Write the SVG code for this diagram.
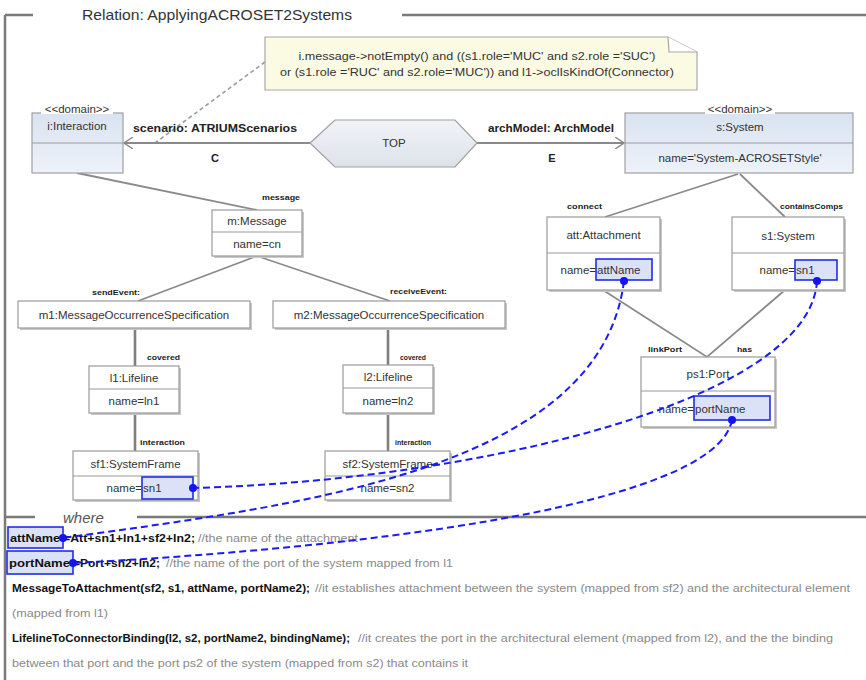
<svg xmlns="http://www.w3.org/2000/svg" width="866" height="680" viewBox="0 0 866 680">
  <defs>
    <linearGradient id="domainFill" x1="0" y1="0" x2="0" y2="1">
      <stop offset="0" stop-color="#d9e3f1"/>
      <stop offset="1" stop-color="#eef2f9"/>
    </linearGradient>
    <linearGradient id="hexFill" x1="0" y1="0" x2="0" y2="1">
      <stop offset="0" stop-color="#f1f3f7"/>
      <stop offset="1" stop-color="#dde2ea"/>
    </linearGradient>
    <marker id="openArrow" viewBox="0 0 10 12" refX="9" refY="6" markerWidth="10" markerHeight="12" markerUnits="userSpaceOnUse" orient="auto">
      <path d="M0,0 L9,6 L0,12" fill="none" stroke="#888" stroke-width="1.4"/>
    </marker>
    <style>
      .frame { stroke: #7a7a7a; stroke-width: 2.5; fill: none; }
      .box { fill: #ffffff; stroke: #9a9a9a; stroke-width: 1.2; }
      .shadow { fill: #c8c8c8; }
      .dom { fill: url(#domainFill); stroke: #a0a0a0; stroke-width: 1.2; }
      .div { stroke: #9a9a9a; stroke-width: 1.2; }
      .link { stroke: #8a8a8a; stroke-width: 1.8; fill: none; }
      .vlink { stroke: #7f7f7f; stroke-width: 2.6; fill: none; }
      .t { font-family: "Liberation Sans", Arial, sans-serif; font-size: 11.5px; fill: #333; }
      .mid { text-anchor: middle; }
      .end { text-anchor: end; }
      .role { font-family: "Liberation Sans", Arial, sans-serif; font-size: 8px; font-weight: bold; fill: #222; }
      .elabel { font-family: "Liberation Sans", Arial, sans-serif; font-size: 11px; font-weight: bold; fill: #222; }
      .note { font-family: "Liberation Sans", Arial, sans-serif; font-size: 10.5px; fill: #333; }
      .hl { fill: #dbe2f8; stroke: #1e2de8; stroke-width: 1.6; }
      .dot { fill: #1414f0; }
      .bind { stroke: #1a1aff; stroke-width: 2; stroke-dasharray: 7 4; fill: none; }
      .w { font-family: "Liberation Sans", Arial, sans-serif; font-size: 11px; }
      .wb { font-weight: bold; fill: #111; }
      .wc { fill: #8a8a8a; }
    </style>
  </defs>

  <rect width="866" height="680" fill="#ffffff"/>

  <!-- relation frame -->
  <g id="frame">
    <path class="frame" d="M5,15 H33 M5,15 V680 M402,15 H866"/>
    <text x="82" y="19.5" font-family="Liberation Sans, Arial, sans-serif" font-size="14.5" fill="#333" textLength="270" lengthAdjust="spacingAndGlyphs">Relation: ApplyingACROSET2Systems</text>
    <path class="frame" d="M5,517 H35 M137,517 H866"/>
    <text x="63" y="523" font-family="Liberation Sans, Arial, sans-serif" font-size="15" font-style="italic" fill="#555">where</text>
  </g>

  <!-- connectors -->
  <g id="connectors">
    <path d="M265,62 L155,143" stroke="#9a9a9a" stroke-width="1.6" stroke-dasharray="4 3" fill="none"/>
    <path class="link" d="M310,143 H124" marker-end="url(#openArrow)"/>
    <path class="link" d="M477,143 H624" marker-end="url(#openArrow)"/>
    <path class="link" d="M77,173 L257,210"/>
    <path class="link" d="M257,256 L138,301"/>
    <path class="link" d="M257,256 L390,301"/>
    <path class="vlink" d="M135,328 V366 M135,413 V451"/>
    <path class="vlink" d="M388,328 V365 M388,413 V451"/>
    <path class="link" d="M738,174 L605,217"/>
    <path class="link" d="M740,174 L785,217"/>
    <path class="link" d="M603,290 L707,357 L785,290"/>

    <text class="elabel" x="133" y="132" textLength="164" lengthAdjust="spacingAndGlyphs">scenario: ATRIUMScenarios</text>
    <text class="elabel" x="215" y="162" font-size="12.5" text-anchor="middle">C</text>
    <text class="elabel" x="488" y="132" textLength="126" lengthAdjust="spacingAndGlyphs">archModel: ArchModel</text>
    <text class="elabel" x="552" y="162" font-size="12.5" text-anchor="middle">E</text>

    <text class="role" x="262" y="200" textLength="38" lengthAdjust="spacingAndGlyphs">message</text>
    <text class="role" x="92" y="295" textLength="48" lengthAdjust="spacingAndGlyphs">sendEvent:</text>
    <text class="role" x="390" y="294" textLength="57" lengthAdjust="spacingAndGlyphs">receiveEvent:</text>
    <text class="role" x="147" y="360" textLength="33" lengthAdjust="spacingAndGlyphs">covered</text>
    <text class="role" x="400" y="360" textLength="26" lengthAdjust="spacingAndGlyphs">covered</text>
    <text class="role" x="140" y="445" textLength="45" lengthAdjust="spacingAndGlyphs">interaction</text>
    <text class="role" x="395" y="445" textLength="36" lengthAdjust="spacingAndGlyphs">interaction</text>
    <text class="role" x="567" y="209" textLength="35" lengthAdjust="spacingAndGlyphs">connect</text>
    <text class="role" x="780" y="209" textLength="63" lengthAdjust="spacingAndGlyphs">containsComps</text>
    <text class="role" x="648" y="352" textLength="34" lengthAdjust="spacingAndGlyphs">linkPort</text>
    <text class="role" x="737" y="352" textLength="15" lengthAdjust="spacingAndGlyphs">has</text>
  </g>

  <!-- constraint note -->
  <g id="note">
    <path d="M265,37 H668 L697,52 V90 H265 Z" fill="#fbfbe3" stroke="#a8a8a8" stroke-width="1.2"/>
    <path d="M668,37 L669,52 H697" fill="#ffffff" stroke="#a8a8a8" stroke-width="1.2"/>
    <text class="note mid" x="477" y="60" textLength="357" lengthAdjust="spacingAndGlyphs">i.message-&gt;notEmpty() and ((s1.role='MUC' and s2.role ='SUC')</text>
    <text class="note mid" x="477" y="76" textLength="394" lengthAdjust="spacingAndGlyphs">or (s1.role ='RUC' and s2.role='MUC')) and l1-&gt;oclIsKindOf(Connector)</text>
  </g>

  <!-- TOP key -->
  <g id="top">
    <polygon points="310,143 335,120 455,120 477,143 455,167 335,167" fill="url(#hexFill)" stroke="#a0a0a0" stroke-width="1.2"/>
    <text class="t mid" x="394" y="147">TOP</text>
  </g>

  <!-- domain i -->
  <g id="i_interaction">
    <rect class="dom" x="32" y="113" width="91" height="60"/>
    <line class="div" x1="32" y1="143" x2="123" y2="143"/>
    <rect x="41" y="104" width="72" height="10" fill="#ffffff"/>
    <text class="t mid" x="77" y="113" font-size="10.5">&lt;&lt;domain&gt;&gt;</text>
    <text class="t mid" x="77" y="130">i:Interaction</text>
  </g>

  <!-- domain s -->
  <g id="s_system">
    <rect class="dom" x="625" y="113" width="228" height="60"/>
    <line class="div" x1="625" y1="143" x2="853" y2="143"/>
    <rect x="705" y="104" width="70" height="10" fill="#ffffff"/>
    <text class="t mid" x="740" y="113" font-size="10.5">&lt;&lt;domain&gt;&gt;</text>
    <text class="t mid" x="740" y="131">s:System</text>
    <text class="t mid" x="740" y="162">name='System-ACROSETStyle'</text>
  </g>

  <g id="m_message">
    <rect class="shadow" x="214" y="212" width="90" height="46"/>
    <rect class="box" x="212" y="210" width="90" height="46"/>
    <line class="div" x1="212" y1="232" x2="302" y2="232"/>
    <text class="t mid" x="257" y="225">m:Message</text>
    <text class="t mid" x="257" y="248">name=cn</text>
  </g>

  <g id="m1">
    <rect class="shadow" x="20" y="303" width="232" height="27"/>
    <rect class="box" x="18" y="301" width="232" height="27"/>
    <text class="t mid" x="134" y="318.5">m1:MessageOccurrenceSpecification</text>
  </g>

  <g id="m2">
    <rect class="shadow" x="275" y="303" width="232" height="27"/>
    <rect class="box" x="273" y="301" width="232" height="27"/>
    <text class="t mid" x="389" y="318.5">m2:MessageOccurrenceSpecification</text>
  </g>

  <g id="l1">
    <rect class="shadow" x="91" y="368" width="90" height="47"/>
    <rect class="box" x="89" y="366" width="90" height="47"/>
    <line class="div" x1="89" y1="389" x2="179" y2="389"/>
    <text class="t mid" x="134" y="381.5">l1:Lifeline</text>
    <text class="t mid" x="134" y="405">name=ln1</text>
  </g>

  <g id="l2">
    <rect class="shadow" x="345" y="367" width="90" height="48"/>
    <rect class="box" x="343" y="365" width="90" height="48"/>
    <line class="div" x1="343" y1="388" x2="433" y2="388"/>
    <text class="t mid" x="388" y="380.5">l2:Lifeline</text>
    <text class="t mid" x="388" y="404.5">name=ln2</text>
  </g>

  <g id="sf1">
    <rect class="shadow" x="75" y="453" width="125" height="49"/>
    <rect class="box" x="73" y="451" width="125" height="49"/>
    <line class="div" x1="73" y1="476" x2="198" y2="476"/>
    <text class="t mid" x="135.5" y="467.5">sf1:SystemFrame</text>
    <rect class="hl" x="142" y="477" width="51" height="22"/>
    <text class="t end" x="142" y="492">name=</text>
    <text class="t" x="143" y="492">sn1</text>
  </g>

  <g id="sf2">
    <rect class="shadow" x="327" y="453" width="125" height="49"/>
    <rect class="box" x="325" y="451" width="125" height="49"/>
    <line class="div" x1="325" y1="476" x2="450" y2="476"/>
    <text class="t mid" x="387.5" y="467.5">sf2:SystemFrame</text>
    <text class="t mid" x="387.5" y="492">name=sn2</text>
  </g>

  <g id="att">
    <rect class="shadow" x="549" y="219" width="113" height="73"/>
    <rect class="box" x="547" y="217" width="113" height="73"/>
    <line class="div" x1="547" y1="253" x2="660" y2="253"/>
    <text class="t mid" x="603.5" y="239">att:Attachment</text>
    <rect class="hl" x="596" y="259" width="56" height="21"/>
    <text class="t end" x="596" y="274">name=</text>
    <text class="t" x="597" y="274">attName</text>
  </g>

  <g id="s1">
    <rect class="shadow" x="734" y="219" width="112" height="73"/>
    <rect class="box" x="732" y="217" width="112" height="73"/>
    <line class="div" x1="732" y1="253" x2="844" y2="253"/>
    <text class="t mid" x="788" y="240">s1:System</text>
    <rect class="hl" x="795" y="260" width="42" height="20"/>
    <text class="t end" x="795" y="274">name=</text>
    <text class="t" x="796" y="274">sn1</text>
  </g>

  <g id="ps1">
    <rect class="shadow" x="643" y="359" width="134" height="70"/>
    <rect class="box" x="641" y="357" width="134" height="70"/>
    <line class="div" x1="641" y1="391" x2="775" y2="391"/>
    <text class="t mid" x="708" y="378">ps1:Port</text>
    <rect class="hl" x="694" y="396" width="76" height="24"/>
    <text class="t end" x="694" y="413">name=</text>
    <text class="t" x="695" y="413">portName</text>
  </g>

  <!-- where clause -->
  <g id="where">
    <rect class="hl" x="8" y="527" width="55" height="21"/>
    <rect class="hl" x="7" y="551" width="66" height="23"/>
    <text class="w" y="542">
      <tspan class="wb" x="10" fill="#1a2255" textLength="50" lengthAdjust="spacingAndGlyphs">attName</tspan>
      <tspan class="wb" x="63" textLength="132" lengthAdjust="spacingAndGlyphs">=Att+sn1+ln1+sf2+ln2;</tspan>
      <tspan class="wc" x="198" textLength="160" lengthAdjust="spacingAndGlyphs">//the name of the attachment</tspan>
    </text>
    <text class="w" y="567">
      <tspan class="wb" x="9" fill="#1a2255" textLength="61" lengthAdjust="spacingAndGlyphs">portName</tspan>
      <tspan class="wb" x="73" textLength="87" lengthAdjust="spacingAndGlyphs">=Port+sn2+ln2;</tspan>
      <tspan class="wc" x="166" textLength="287" lengthAdjust="spacingAndGlyphs">//the name of the port of the system mapped from l1</tspan>
    </text>
    <text class="w" y="592">
      <tspan class="wb" x="12" textLength="298" lengthAdjust="spacingAndGlyphs">MessageToAttachment(sf2, s1, attName, portName2);</tspan>
      <tspan class="wc" x="315" textLength="535" lengthAdjust="spacingAndGlyphs">//it establishes attachment between the system (mapped from sf2) and the architectural element</tspan>
    </text>
    <text class="w wc" x="12" y="617" textLength="96" lengthAdjust="spacingAndGlyphs">(mapped from l1)</text>
    <text class="w" y="642">
      <tspan class="wb" x="12" textLength="338" lengthAdjust="spacingAndGlyphs">LifelineToConnectorBinding(l2, s2, portName2, bindingName);</tspan>
      <tspan class="wc" x="358" textLength="475" lengthAdjust="spacingAndGlyphs">//it creates the port in the architectural element (mapped from l2), and the the binding</tspan>
    </text>
    <text class="w wc" x="12" y="667" textLength="456" lengthAdjust="spacingAndGlyphs">between that port and the port ps2 of the system (mapped from s2) that contains it</text>
  </g>

  <!-- variable bindings -->
  <g id="bindings">
    <path class="bind" d="M624,281 C600,470 300,505 63,538"/>
    <path class="bind" d="M817,281 C810,400 480,480 193,488"/>
    <path class="bind" d="M732,420 C715,510 330,550 73,563"/>
    <circle class="dot" cx="624" cy="281" r="4"/>
    <circle class="dot" cx="817" cy="281" r="4"/>
    <circle class="dot" cx="732" cy="420" r="4"/>
    <circle class="dot" cx="193" cy="488" r="4"/>
    <circle class="dot" cx="63" cy="538" r="4"/>
    <circle class="dot" cx="73" cy="563" r="4"/>
  </g>
</svg>
